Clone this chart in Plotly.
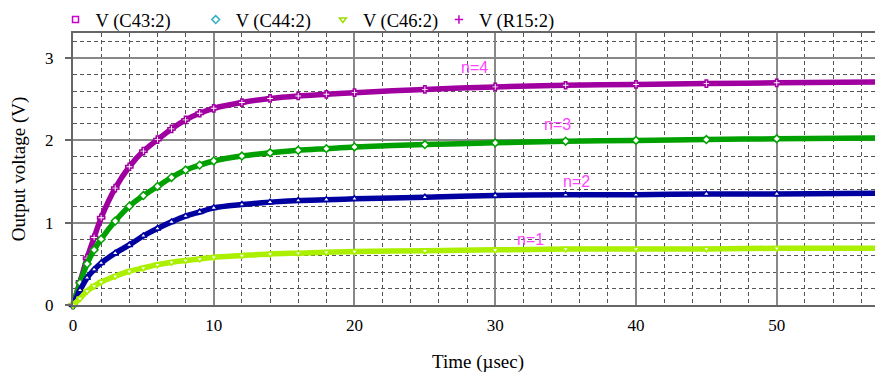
import plotly.graph_objects as go

# ---- data ----
time_us = [0, 0.5, 1, 1.5, 2, 3, 4, 5, 6, 7, 8, 9, 10, 12, 14, 16, 18, 20,
           25, 30, 35, 40, 45, 50, 57.6]
v_n4 = [0, 0.28, 0.57, 0.82, 1.06, 1.42, 1.68, 1.87, 2.01, 2.14, 2.25, 2.33, 2.39,
        2.46, 2.51, 2.54, 2.56, 2.58, 2.62, 2.65, 2.67, 2.68, 2.69, 2.70, 2.71]
v_n3 = [0, 0.27, 0.50, 0.67, 0.80, 1.02, 1.20, 1.33, 1.44, 1.55, 1.64, 1.70, 1.75,
        1.81, 1.85, 1.88, 1.90, 1.92, 1.95, 1.97, 1.99, 2.00, 2.01, 2.02, 2.03]
v_n2 = [0, 0.18, 0.33, 0.43, 0.51, 0.63, 0.73, 0.84, 0.93, 1.01, 1.08, 1.13, 1.18,
        1.22, 1.25, 1.27, 1.28, 1.29, 1.31, 1.33, 1.34, 1.34, 1.35, 1.35, 1.36]
v_n1 = [0, 0.08, 0.17, 0.23, 0.28, 0.35, 0.41, 0.45, 0.49, 0.52, 0.54, 0.56, 0.58,
        0.60, 0.62, 0.63, 0.64, 0.65, 0.66, 0.67, 0.68, 0.68, 0.68, 0.69, 0.69]

legend_names = ["V (C43:2)", "V (C44:2)", "V (C46:2)", "V (R15:2)"]
curve_labels = ["n=1", "n=2", "n=3", "n=4"]
x_tick_vals = [0, 10, 20, 30, 40, 50]
y_tick_vals = [0, 1, 2, 3]

# ---- styling ----
FONT = "Liberation Serif"
series = [
    (v_n4, "#A000A0", "cross"),
    (v_n3, "#00A000", "diamond"),
    (v_n2, "#0000A0", "triangle-up"),
    (v_n1, "#AAF000", "triangle-down"),
]
legend_style = [("square-open", "#CC00CC"), ("diamond-open", "#30B0C0"),
                ("triangle-down-open", "#99DD00"), ("cross-thin-open", "#C000C0")]
legend_x = [-0.0216, 0.1515, 0.3085, 0.4518]
label_pos = [(32.5, 0.79), (35.8, 1.50), (34.45, 2.19), (28.55, 2.88)]

fig = go.Figure()
for vals, col, sym in series:
    fig.add_trace(go.Scatter(
        x=time_us, y=vals, mode="lines+markers", showlegend=False,
        line=dict(color=col, width=5.5, shape="spline", smoothing=0.8),
        marker=dict(symbol=sym, size=6, color="white", line=dict(color=col, width=1.5)),
        cliponaxis=False))

legend_layouts = {}
for i, (name, (sym, col), lx) in enumerate(zip(legend_names, legend_style, legend_x)):
    key = "legend" if i == 0 else f"legend{i + 1}"
    fig.add_trace(go.Scatter(
        x=[None], y=[None], mode="markers", name=name, legend=key,
        marker=dict(symbol=sym, size=6, color=col, line=dict(color=col, width=1.5))))
    legend_layouts[key] = dict(orientation="h", x=lx, xanchor="left", y=1.1176, yanchor="top",
                               font=dict(family=FONT, size=18.5), bgcolor="rgba(0,0,0,0)",
                               itemwidth=30)

for txt, (tx, vy) in zip(curve_labels, label_pos):
    fig.add_annotation(x=tx, y=vy, text=txt, showarrow=False,
                       font=dict(family="Liberation Sans", size=16, color="#FF44FF"))

minor_grid = dict(showgrid=True, gridcolor="#555555", griddash="4px,3px", gridwidth=1)

# page body has an 8px margin, so the figure is 8px smaller than the window
fig.update_layout(
    width=875, height=369,
    margin=dict(l=65, r=0, t=25, b=72, autoexpand=False),
    paper_bgcolor="white", plot_bgcolor="white",
    font=dict(family=FONT, size=17, color="black"),
    showlegend=True,
    xaxis=dict(range=[0, 57.55], tickvals=x_tick_vals, showgrid=True,
               gridcolor="#888888", gridwidth=1.5,
               minor=dict(dtick=2, tick0=0, **minor_grid),
               showline=True, linecolor="#666666", linewidth=2, mirror=True,
               zeroline=False, ticks="", automargin=False, ticklabelstandoff=4,
               title=dict(text="Time (µsec)", font=dict(family=FONT, size=19), standoff=20)),
    yaxis=dict(range=[0, 3.305], tickvals=y_tick_vals, showgrid=True,
               gridcolor="#888888", gridwidth=1.5,
               minor=dict(dtick=0.2, tick0=0, **minor_grid),
               showline=True, linecolor="#666666", linewidth=2,
               zeroline=False, ticks="outside", ticklen=6, tickcolor="#666666", tickwidth=1.5,
               automargin=False, ticklabelstandoff=8,
               title=dict(text="Output voltage (V)", font=dict(family=FONT, size=19), standoff=14)),
    **legend_layouts,
)

fig.write_html("out.html")
